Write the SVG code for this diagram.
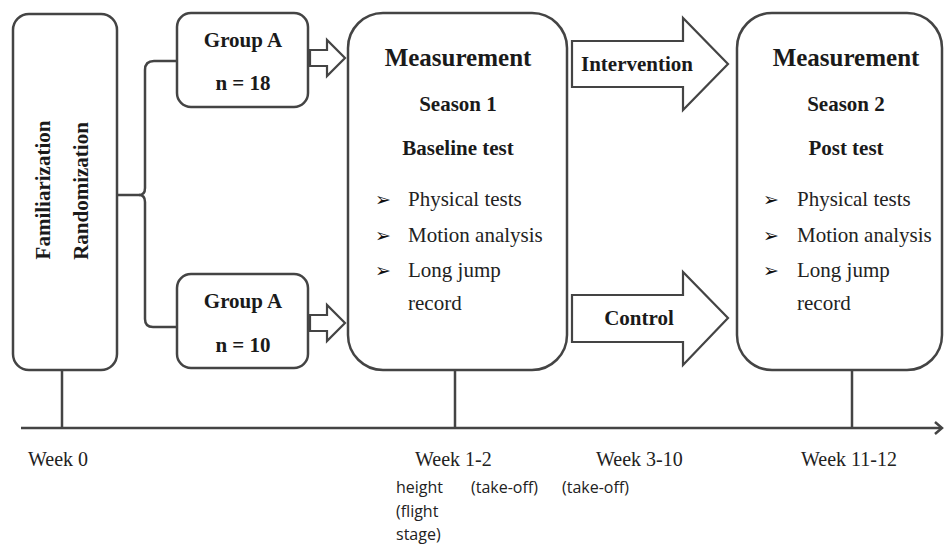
<svg xmlns="http://www.w3.org/2000/svg" width="944" height="548" viewBox="0 0 944 548">
<style>
.box{fill:#fff;stroke:#444;stroke-width:2.5}
.arr{fill:#fff;stroke:#444;stroke-width:2.2;stroke-linejoin:miter}
.ln{fill:none;stroke:#444;stroke-width:2.5}
.b{font-family:"Liberation Serif",serif;font-weight:bold;font-size:21px;fill:#1a1a1a}
.h{font-family:"Liberation Serif",serif;font-weight:bold;font-size:25px;fill:#1a1a1a}
.r{font-family:"Liberation Serif",serif;font-size:21px;fill:#222}
.bul{font-family:"DejaVu Sans",sans-serif;font-size:19px;fill:#111}
.w{font-family:"Liberation Serif",serif;font-size:20px;fill:#222}
.s{font-family:"Open Sans",sans-serif;font-size:16px;fill:#222}
.c{text-anchor:middle}
</style>
<rect width="944" height="548" fill="#fff"/>
<g id="connectors">
<path class="ln" d="M117,195 H139 Q145,195 145,188 V70 Q145,61 154,61 H177"/>
<path class="ln" d="M139,195 Q145,195 145,202 V319 Q145,327 153,327 H177"/>
<path class="arr" d="M310,50 H327 V40 L345,58 L327,76 V66 H310 Z"/>
<path class="arr" d="M310,315 H327 V305 L345,323 L327,341 V331 H310 Z"/>
<path class="arr" d="M572,41 H683 V18 L728,64 L683,110 V87 H572 Z"/>
<path class="arr" d="M572,295 H683 V272 L728,318 L683,365 V342 H572 Z"/>
<path class="ln" d="M62,370 V428 M455,370 V428 M852,370 V428"/>
<path class="ln" d="M21,428 H941" stroke-width="3"/>
<path class="ln" d="M935,422 L942,428 L935,434" stroke-width="2"/>
</g>
<g id="fam">
<rect class="box" x="13" y="14" width="104" height="356" rx="16"/>
<text class="b c" transform="translate(50,190) rotate(-90)">Familiarization</text>
<text class="b c" transform="translate(88,191) rotate(-90)">Randomization</text>
</g>
<g id="groupA1">
<rect class="box" x="177" y="13" width="131" height="94" rx="14"/>
<text class="b c" x="243" y="47">Group A</text>
<text class="b c" x="243" y="90">n = 18</text>
</g>
<g id="groupA2">
<rect class="box" x="177" y="274" width="131" height="94" rx="14"/>
<text class="b c" x="243" y="308">Group A</text>
<text class="b c" x="243" y="352">n = 10</text>
</g>
<g id="meas1">
<rect class="box" x="348" y="13" width="219" height="357" rx="35"/>
<text class="h c" x="458" y="66">Measurement</text>
<text class="b c" x="458" y="111">Season 1</text>
<text class="b c" x="458" y="155">Baseline test</text>
<text class="bul" x="375" y="206">➢</text>
<text class="r" x="408" y="206">Physical tests</text>
<text class="bul" x="375" y="242">➢</text>
<text class="r" x="408" y="242">Motion analysis</text>
<text class="bul" x="375" y="277">➢</text>
<text class="r" x="408" y="277">Long jump</text>
<text class="r" x="408" y="310">record</text>
</g>
<g id="intervention">
<text class="b" x="581" y="71">Intervention</text>
</g>
<g id="control">
<text class="b c" x="639" y="325">Control</text>
</g>
<g id="meas2">
<rect class="box" x="737" y="13" width="205" height="357" rx="35"/>
<text class="h c" x="846" y="66">Measurement</text>
<text class="b c" x="846" y="111">Season 2</text>
<text class="b c" x="846" y="155">Post test</text>
<text class="bul" x="763" y="206">➢</text>
<text class="r" x="797" y="206">Physical tests</text>
<text class="bul" x="763" y="242">➢</text>
<text class="r" x="797" y="242">Motion analysis</text>
<text class="bul" x="763" y="277">➢</text>
<text class="r" x="797" y="277">Long jump</text>
<text class="r" x="797" y="310">record</text>
</g>
<g id="timeline">
<text class="w" x="28" y="466">Week 0</text>
<text class="w" x="415" y="466">Week 1-2</text>
<text class="w" x="596" y="466">Week 3-10</text>
<text class="w" x="801" y="466">Week 11-12</text>
<text class="s" x="396" y="493">height</text>
<text class="s" x="471" y="493">(take-off)</text>
<text class="s" x="562" y="493">(take-off)</text>
<text class="s" x="396" y="517">(flight</text>
<text class="s" x="396" y="540">stage)</text>
</g>
</svg>
